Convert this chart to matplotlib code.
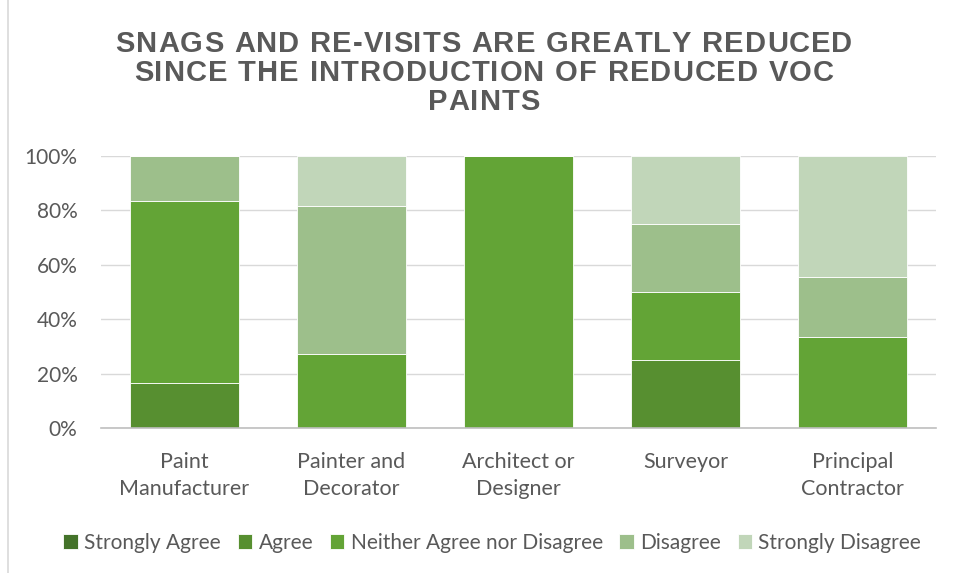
import numpy as np
import matplotlib
matplotlib.use("Agg")
import matplotlib.pyplot as plt
from matplotlib.ticker import PercentFormatter

categories = ["Paint\nManufacturer", "Painter and\nDecorator", "Architect or\nDesigner",
              "Surveyor", "Principal\nContractor"]
responses = ["Strongly Agree", "Agree", "Neither Agree nor Disagree", "Disagree", "Strongly Disagree"]
strongly_agree = [0, 0, 0, 0, 0]
agree = [16.7, 0, 0, 25.0, 0]
neither = [66.7, 27.3, 100.0, 25.0, 33.3]
disagree = [16.7, 54.5, 0, 25.0, 22.2]
strongly_disagree = [0, 18.2, 0, 25.0, 44.4]
colors = ["#44732a", "#578f30", "#63a436", "#9dbf8b", "#c1d6b9"]
title_lines = ["SNAGS AND RE-VISITS ARE GREATLY REDUCED",
               "SINCE THE INTRODUCTION OF REDUCED VOC",
               "PAINTS"]

plt.rcParams["font.family"] = ["Lato", "DejaVu Sans"]
W, H = 956, 573
fig = plt.figure(figsize=(W / 100, H / 100), dpi=100)
ax = fig.add_axes([101 / W, 1 - 428 / H, 835 / W, 272 / H])

x = np.arange(len(categories))
bottom = np.zeros(len(categories))
for name, vals, c in zip(responses, [strongly_agree, agree, neither, disagree, strongly_disagree], colors):
    vals = np.array(vals, dtype=float)
    ax.bar(x, vals, 0.65, bottom=bottom, color=c, label=name, edgecolor="white", linewidth=0.6)
    bottom += vals

ax.set_xlim(-0.5, len(categories) - 0.5)
ax.set_ylim(0, 100)
ax.set_yticks(np.arange(0, 101, 20))
ax.yaxis.set_major_formatter(PercentFormatter(decimals=0))
ax.set_xticks(x)
ax.set_xticklabels(categories, fontsize=15.5, color="#595959", linespacing=1.45)
ax.tick_params(axis="y", labelsize=15, labelcolor="#595959", length=0, pad=17)
ax.tick_params(axis="x", length=0, pad=17)
ax.grid(axis="y", color="#d9d9d9", lw=1)
ax.set_axisbelow(True)
for s in ["top", "right", "left"]:
    ax.spines[s].set_visible(False)
ax.spines["bottom"].set_color("#bfbfbf")
ax.spines["bottom"].set_linewidth(1.2)

# title with slightly widened letter spacing, placed one glyph at a time
renderer = fig.canvas.get_renderer()
tkw = dict(fontsize=21, fontweight="bold", color="#595959", family=["Liberation Sans", "DejaVu Sans"])
track = 1.0
for baseline, line in zip([52, 81, 110], title_lines):
    widths = []
    for ch in line:
        t = fig.text(0, 0, ch if ch != " " else "n", **tkw)
        w = t.get_window_extent(renderer).width
        if ch == " ":
            w *= 0.5
        widths.append(w)
        t.remove()
    total = sum(widths) + track * (len(line) - 1)
    xpos = 484 - total / 2
    for ch, w in zip(line, widths):
        if ch != " ":
            fig.text(xpos / W, 1 - baseline / H, ch, ha="left", va="baseline", **tkw)
        xpos += w + track

fig.legend(loc="center", bbox_to_anchor=(0.515, 1 - 543 / H), ncol=5, frameon=False,
           fontsize=15, handlelength=0.7, handleheight=0.7, handletextpad=0.3,
           columnspacing=0.8, labelcolor="#595959")

# thin chart border on the left edge
fig.add_artist(plt.Line2D([8 / W, 8 / W], [0, 1], color="#d9d9d9", lw=1.2))

fig.savefig("out.png", dpi=100)
